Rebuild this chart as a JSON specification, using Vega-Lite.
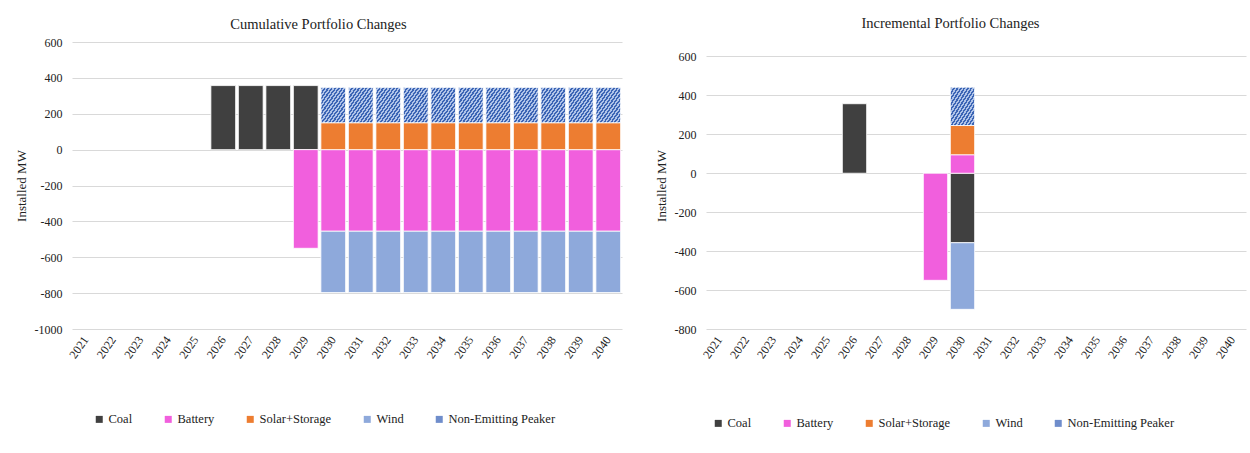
{
  "$schema": "https://vega.github.io/schema/vega-lite/v6.json",
  "background": "white",
  "padding": {"left": 15, "top": 15, "right": 5, "bottom": 5},
  "config": {
    "font": "Liberation Serif",
    "view": {"stroke": null},
    "style": {
      "guide-label": {"font": "Liberation Serif", "fontSize": 12, "fill": "#222222"},
      "guide-title": {"font": "Liberation Serif", "fontSize": 13, "fontWeight": "normal", "fill": "#222222"}
    },
    "axis": {
      "labelFont": "Liberation Serif", "labelFontSize": 12, "labelColor": "#222222",
      "titleFont": "Liberation Serif", "titleFontSize": 13, "titleFontWeight": "normal", "titleColor": "#222222",
      "gridColor": "#D9D9D9", "gridWidth": 1, "domain": false, "ticks": false
    },
    "title": {"font": "Liberation Serif", "fontSize": 14.5, "fontWeight": "normal", "color": "#222222", "anchor": "middle", "frame": "bounds"},
    "legend": {"labelFont": "Liberation Serif", "labelFontSize": 12, "labelColor": "#222222"},
    "concat": {"spacing": 33}
  },
  "datasets": {
    "cum": [
      {"year": "2026", "type": "Coal", "k": 0, "value": 357},
      {"year": "2027", "type": "Coal", "k": 0, "value": 357},
      {"year": "2028", "type": "Coal", "k": 0, "value": 357},
      {"year": "2029", "type": "Coal", "k": 0, "value": 357},
      {"year": "2029", "type": "Battery", "k": 1, "value": -550},
      {"year": "2030", "type": "Battery", "k": 1, "value": -455},
      {"year": "2030", "type": "Solar+Storage", "k": 2, "value": 150},
      {"year": "2030", "type": "Wind", "k": 3, "value": -342},
      {"year": "2030", "type": "Non-Emitting Peaker", "k": 4, "value": 197},
      {"year": "2031", "type": "Battery", "k": 1, "value": -455},
      {"year": "2031", "type": "Solar+Storage", "k": 2, "value": 150},
      {"year": "2031", "type": "Wind", "k": 3, "value": -342},
      {"year": "2031", "type": "Non-Emitting Peaker", "k": 4, "value": 197},
      {"year": "2032", "type": "Battery", "k": 1, "value": -455},
      {"year": "2032", "type": "Solar+Storage", "k": 2, "value": 150},
      {"year": "2032", "type": "Wind", "k": 3, "value": -342},
      {"year": "2032", "type": "Non-Emitting Peaker", "k": 4, "value": 197},
      {"year": "2033", "type": "Battery", "k": 1, "value": -455},
      {"year": "2033", "type": "Solar+Storage", "k": 2, "value": 150},
      {"year": "2033", "type": "Wind", "k": 3, "value": -342},
      {"year": "2033", "type": "Non-Emitting Peaker", "k": 4, "value": 197},
      {"year": "2034", "type": "Battery", "k": 1, "value": -455},
      {"year": "2034", "type": "Solar+Storage", "k": 2, "value": 150},
      {"year": "2034", "type": "Wind", "k": 3, "value": -342},
      {"year": "2034", "type": "Non-Emitting Peaker", "k": 4, "value": 197},
      {"year": "2035", "type": "Battery", "k": 1, "value": -455},
      {"year": "2035", "type": "Solar+Storage", "k": 2, "value": 150},
      {"year": "2035", "type": "Wind", "k": 3, "value": -342},
      {"year": "2035", "type": "Non-Emitting Peaker", "k": 4, "value": 197},
      {"year": "2036", "type": "Battery", "k": 1, "value": -455},
      {"year": "2036", "type": "Solar+Storage", "k": 2, "value": 150},
      {"year": "2036", "type": "Wind", "k": 3, "value": -342},
      {"year": "2036", "type": "Non-Emitting Peaker", "k": 4, "value": 197},
      {"year": "2037", "type": "Battery", "k": 1, "value": -455},
      {"year": "2037", "type": "Solar+Storage", "k": 2, "value": 150},
      {"year": "2037", "type": "Wind", "k": 3, "value": -342},
      {"year": "2037", "type": "Non-Emitting Peaker", "k": 4, "value": 197},
      {"year": "2038", "type": "Battery", "k": 1, "value": -455},
      {"year": "2038", "type": "Solar+Storage", "k": 2, "value": 150},
      {"year": "2038", "type": "Wind", "k": 3, "value": -342},
      {"year": "2038", "type": "Non-Emitting Peaker", "k": 4, "value": 197},
      {"year": "2039", "type": "Battery", "k": 1, "value": -455},
      {"year": "2039", "type": "Solar+Storage", "k": 2, "value": 150},
      {"year": "2039", "type": "Wind", "k": 3, "value": -342},
      {"year": "2039", "type": "Non-Emitting Peaker", "k": 4, "value": 197},
      {"year": "2040", "type": "Battery", "k": 1, "value": -455},
      {"year": "2040", "type": "Solar+Storage", "k": 2, "value": 150},
      {"year": "2040", "type": "Wind", "k": 3, "value": -342},
      {"year": "2040", "type": "Non-Emitting Peaker", "k": 4, "value": 197}
    ],
    "inc": [
      {"year": "2026", "type": "Coal", "k": 0, "value": 357},
      {"year": "2029", "type": "Battery", "k": 1, "value": -550},
      {"year": "2030", "type": "Coal", "k": 0, "value": -357},
      {"year": "2030", "type": "Battery", "k": 1, "value": 95},
      {"year": "2030", "type": "Solar+Storage", "k": 2, "value": 150},
      {"year": "2030", "type": "Wind", "k": 3, "value": -342},
      {"year": "2030", "type": "Non-Emitting Peaker", "k": 4, "value": 197}
    ]
  },
  "resolve": {"scale": {"color": "independent", "y": "independent", "x": "independent"}, "legend": {"color": "independent"}},
  "hconcat": [
    {
      "width": 550,
      "height": 287,
      "title": {"text": "Cumulative Portfolio Changes", "offset": 4},
      "data": {"name": "cum"},
      "mark": {"type": "bar", "stroke": "#FFFFFF", "strokeWidth": 1, "strokeOpacity": 0.8},
      "encoding": {
        "x": {
          "field": "year", "type": "nominal", "sort": null,
          "scale": {"domain": ["2021","2022","2023","2024","2025","2026","2027","2028","2029","2030","2031","2032","2033","2034","2035","2036","2037","2038","2039","2040"], "paddingInner": 0.1, "paddingOuter": 0.05},
          "axis": {"title": null, "labelAngle": -55, "labelPadding": 8, "grid": false, "labelFont": "Liberation Serif", "labelFontSize": 12}
        },
        "y": {
          "field": "value", "type": "quantitative", "stack": "zero",
          "scale": {"domain": [-1000, 600], "nice": false},
          "axis": {"title": "Installed MW", "values": [-1000, -800, -600, -400, -200, 0, 200, 400, 600], "labelExpr": "'' + datum.value", "labelPadding": 10, "titlePadding": 6, "labelFont": "Liberation Serif", "labelFontSize": 12, "titleFont": "Liberation Serif", "titleFontSize": 13}
        },
        "color": {
          "condition": {"test": "datum.type === 'Non-Emitting Peaker'", "value": {"gradient": "linear", "x1": 0, "y1": 0, "x2": 1, "y2": 1, "stops": [
              {"offset": 0, "color": "#3C65B5"}, {"offset": 0.0357, "color": "#3C65B5"}, {"offset": 0.0357, "color": "#AFC3E8"}, {"offset": 0.0714, "color": "#AFC3E8"},
              {"offset": 0.0714, "color": "#3C65B5"}, {"offset": 0.1071, "color": "#3C65B5"}, {"offset": 0.1071, "color": "#AFC3E8"}, {"offset": 0.1429, "color": "#AFC3E8"},
              {"offset": 0.1429, "color": "#3C65B5"}, {"offset": 0.1786, "color": "#3C65B5"}, {"offset": 0.1786, "color": "#AFC3E8"}, {"offset": 0.2143, "color": "#AFC3E8"},
              {"offset": 0.2143, "color": "#3C65B5"}, {"offset": 0.25, "color": "#3C65B5"}, {"offset": 0.25, "color": "#AFC3E8"}, {"offset": 0.2857, "color": "#AFC3E8"},
              {"offset": 0.2857, "color": "#3C65B5"}, {"offset": 0.3214, "color": "#3C65B5"}, {"offset": 0.3214, "color": "#AFC3E8"}, {"offset": 0.3571, "color": "#AFC3E8"},
              {"offset": 0.3571, "color": "#3C65B5"}, {"offset": 0.3929, "color": "#3C65B5"}, {"offset": 0.3929, "color": "#AFC3E8"}, {"offset": 0.4286, "color": "#AFC3E8"},
              {"offset": 0.4286, "color": "#3C65B5"}, {"offset": 0.4643, "color": "#3C65B5"}, {"offset": 0.4643, "color": "#AFC3E8"}, {"offset": 0.5, "color": "#AFC3E8"},
              {"offset": 0.5, "color": "#3C65B5"}, {"offset": 0.5357, "color": "#3C65B5"}, {"offset": 0.5357, "color": "#AFC3E8"}, {"offset": 0.5714, "color": "#AFC3E8"},
              {"offset": 0.5714, "color": "#3C65B5"}, {"offset": 0.6071, "color": "#3C65B5"}, {"offset": 0.6071, "color": "#AFC3E8"}, {"offset": 0.6429, "color": "#AFC3E8"},
              {"offset": 0.6429, "color": "#3C65B5"}, {"offset": 0.6786, "color": "#3C65B5"}, {"offset": 0.6786, "color": "#AFC3E8"}, {"offset": 0.7143, "color": "#AFC3E8"},
              {"offset": 0.7143, "color": "#3C65B5"}, {"offset": 0.75, "color": "#3C65B5"}, {"offset": 0.75, "color": "#AFC3E8"}, {"offset": 0.7857, "color": "#AFC3E8"},
              {"offset": 0.7857, "color": "#3C65B5"}, {"offset": 0.8214, "color": "#3C65B5"}, {"offset": 0.8214, "color": "#AFC3E8"}, {"offset": 0.8571, "color": "#AFC3E8"},
              {"offset": 0.8571, "color": "#3C65B5"}, {"offset": 0.8929, "color": "#3C65B5"}, {"offset": 0.8929, "color": "#AFC3E8"}, {"offset": 0.9286, "color": "#AFC3E8"},
              {"offset": 0.9286, "color": "#3C65B5"}, {"offset": 0.9643, "color": "#3C65B5"}, {"offset": 0.9643, "color": "#AFC3E8"}, {"offset": 1, "color": "#AFC3E8"}
            ]}},
          "field": "type", "type": "nominal",
          "scale": {
            "domain": ["Coal", "Battery", "Solar+Storage", "Wind", "Non-Emitting Peaker"],
            "range": ["#404040", "#F15FDD", "#ED7D31", "#8EA9DB", "#6F8DCB"]
          },
          "legend": {"title": null, "orient": "none", "legendX": 21, "legendY": 371, "direction": "horizontal", "symbolType": "square", "symbolSize": 49, "symbolStrokeWidth": 0, "columnPadding": 29, "labelOffset": 3, "labelFont": "Liberation Serif", "labelFontSize": 12.5}
        },
        "order": {"field": "k", "type": "quantitative"}
      }
    },
    {
      "width": 540,
      "height": 287,
      "title": {"text": "Incremental Portfolio Changes", "offset": 11},
      "data": {"name": "inc"},
      "mark": {"type": "bar", "stroke": "#FFFFFF", "strokeWidth": 1, "strokeOpacity": 0.8},
      "encoding": {
        "x": {
          "field": "year", "type": "nominal", "sort": null,
          "scale": {"domain": ["2021","2022","2023","2024","2025","2026","2027","2028","2029","2030","2031","2032","2033","2034","2035","2036","2037","2038","2039","2040"], "paddingInner": 0.1, "paddingOuter": 0.05},
          "axis": {"title": null, "labelAngle": -55, "labelPadding": 8, "grid": false, "labelFont": "Liberation Serif", "labelFontSize": 12}
        },
        "y": {
          "field": "value", "type": "quantitative", "stack": "zero",
          "scale": {"domain": [-800, 674], "nice": false, "zero": false},
          "axis": {"title": "Installed MW", "values": [-800, -600, -400, -200, 0, 200, 400, 600], "labelExpr": "'' + datum.value", "labelPadding": 10, "titlePadding": 6, "labelFont": "Liberation Serif", "labelFontSize": 12, "titleFont": "Liberation Serif", "titleFontSize": 13}
        },
        "color": {
          "condition": {"test": "datum.type === 'Non-Emitting Peaker'", "value": {"gradient": "linear", "x1": 0, "y1": 0, "x2": 1, "y2": 1, "stops": [
              {"offset": 0, "color": "#3C65B5"}, {"offset": 0.0357, "color": "#3C65B5"}, {"offset": 0.0357, "color": "#AFC3E8"}, {"offset": 0.0714, "color": "#AFC3E8"},
              {"offset": 0.0714, "color": "#3C65B5"}, {"offset": 0.1071, "color": "#3C65B5"}, {"offset": 0.1071, "color": "#AFC3E8"}, {"offset": 0.1429, "color": "#AFC3E8"},
              {"offset": 0.1429, "color": "#3C65B5"}, {"offset": 0.1786, "color": "#3C65B5"}, {"offset": 0.1786, "color": "#AFC3E8"}, {"offset": 0.2143, "color": "#AFC3E8"},
              {"offset": 0.2143, "color": "#3C65B5"}, {"offset": 0.25, "color": "#3C65B5"}, {"offset": 0.25, "color": "#AFC3E8"}, {"offset": 0.2857, "color": "#AFC3E8"},
              {"offset": 0.2857, "color": "#3C65B5"}, {"offset": 0.3214, "color": "#3C65B5"}, {"offset": 0.3214, "color": "#AFC3E8"}, {"offset": 0.3571, "color": "#AFC3E8"},
              {"offset": 0.3571, "color": "#3C65B5"}, {"offset": 0.3929, "color": "#3C65B5"}, {"offset": 0.3929, "color": "#AFC3E8"}, {"offset": 0.4286, "color": "#AFC3E8"},
              {"offset": 0.4286, "color": "#3C65B5"}, {"offset": 0.4643, "color": "#3C65B5"}, {"offset": 0.4643, "color": "#AFC3E8"}, {"offset": 0.5, "color": "#AFC3E8"},
              {"offset": 0.5, "color": "#3C65B5"}, {"offset": 0.5357, "color": "#3C65B5"}, {"offset": 0.5357, "color": "#AFC3E8"}, {"offset": 0.5714, "color": "#AFC3E8"},
              {"offset": 0.5714, "color": "#3C65B5"}, {"offset": 0.6071, "color": "#3C65B5"}, {"offset": 0.6071, "color": "#AFC3E8"}, {"offset": 0.6429, "color": "#AFC3E8"},
              {"offset": 0.6429, "color": "#3C65B5"}, {"offset": 0.6786, "color": "#3C65B5"}, {"offset": 0.6786, "color": "#AFC3E8"}, {"offset": 0.7143, "color": "#AFC3E8"},
              {"offset": 0.7143, "color": "#3C65B5"}, {"offset": 0.75, "color": "#3C65B5"}, {"offset": 0.75, "color": "#AFC3E8"}, {"offset": 0.7857, "color": "#AFC3E8"},
              {"offset": 0.7857, "color": "#3C65B5"}, {"offset": 0.8214, "color": "#3C65B5"}, {"offset": 0.8214, "color": "#AFC3E8"}, {"offset": 0.8571, "color": "#AFC3E8"},
              {"offset": 0.8571, "color": "#3C65B5"}, {"offset": 0.8929, "color": "#3C65B5"}, {"offset": 0.8929, "color": "#AFC3E8"}, {"offset": 0.9286, "color": "#AFC3E8"},
              {"offset": 0.9286, "color": "#3C65B5"}, {"offset": 0.9643, "color": "#3C65B5"}, {"offset": 0.9643, "color": "#AFC3E8"}, {"offset": 1, "color": "#AFC3E8"}
            ]}},
          "field": "type", "type": "nominal",
          "scale": {
            "domain": ["Coal", "Battery", "Solar+Storage", "Wind", "Non-Emitting Peaker"],
            "range": ["#404040", "#F15FDD", "#ED7D31", "#8EA9DB", "#6F8DCB"]
          },
          "legend": {"title": null, "orient": "none", "legendX": 6, "legendY": 375, "direction": "horizontal", "symbolType": "square", "symbolSize": 49, "symbolStrokeWidth": 0, "columnPadding": 29, "labelOffset": 3, "labelFont": "Liberation Serif", "labelFontSize": 12.5}
        },
        "order": {"field": "k", "type": "quantitative"}
      }
    }
  ]
}
